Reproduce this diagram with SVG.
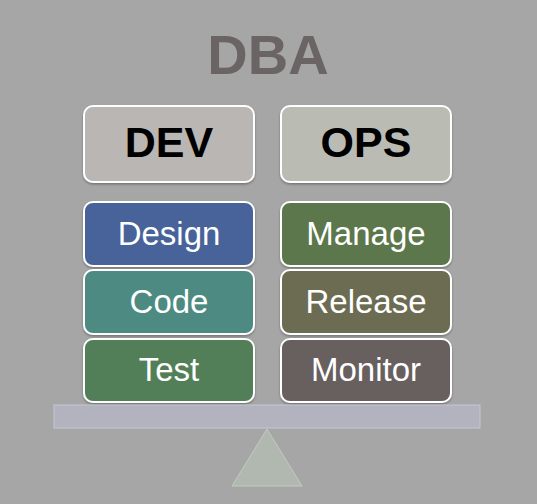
<svg xmlns="http://www.w3.org/2000/svg" width="537" height="504" viewBox="0 0 537 504">
<defs>
<style>
.box{stroke:#ffffff;stroke-width:2}
.hd{font-family:"Liberation Sans",Arial,sans-serif;font-weight:bold;font-size:43px;fill:#000;text-anchor:middle}
.lb{font-family:"Liberation Sans",Arial,sans-serif;font-size:33px;fill:#ffffff;text-anchor:middle}
</style>
<filter id="sh" x="-10%" y="-10%" width="120%" height="130%">
<feDropShadow dx="0" dy="1.5" stdDeviation="1.2" flood-color="#000" flood-opacity="0.3"/>
</filter>
</defs>
<rect width="537" height="504" fill="#a6a6a6"/>
<g id="title"><text x="268" y="74" font-family="'Liberation Sans',Arial,sans-serif" font-weight="bold" font-size="56" fill="#6a6564" text-anchor="middle">DBA</text></g>
<g id="dev"><rect class="box" x="84" y="106" width="170" height="76" rx="9" fill="#bab6b4" filter="url(#sh)"/><text class="hd" x="169" y="157">DEV</text></g>
<g id="ops"><rect class="box" x="281" y="106" width="170" height="76" rx="9" fill="#babcb4" filter="url(#sh)"/><text class="hd" x="366" y="157">OPS</text></g>
<g id="design"><rect class="box" x="84" y="202" width="170" height="64" rx="9" fill="#47649a" filter="url(#sh)"/><text class="lb" x="169" y="245">Design</text></g>
<g id="code"><rect class="box" x="84" y="270" width="170" height="64" rx="9" fill="#4e8b82" filter="url(#sh)"/><text class="lb" x="169" y="313">Code</text></g>
<g id="test"><rect class="box" x="84" y="339" width="170" height="63" rx="9" fill="#527f58" filter="url(#sh)"/><text class="lb" x="169" y="381">Test</text></g>
<g id="manage"><rect class="box" x="281" y="202" width="170" height="64" rx="9" fill="#5c774c" filter="url(#sh)"/><text class="lb" x="366" y="245">Manage</text></g>
<g id="release"><rect class="box" x="281" y="270" width="170" height="64" rx="9" fill="#6c6c52" filter="url(#sh)"/><text class="lb" x="366" y="313">Release</text></g>
<g id="monitor"><rect class="box" x="281" y="339" width="170" height="63" rx="9" fill="#685f5e" filter="url(#sh)"/><text class="lb" x="366" y="381">Monitor</text></g>
<g id="beam"><rect x="54" y="405" width="426" height="23" fill="#b3b3bf" stroke="#c6c6d4" stroke-width="1"/></g>
<g id="fulcrum"><polygon points="267,429 302,486 232,486" fill="#b0b8b0" stroke="#c4c9c4" stroke-width="1"/></g>
<g id="connectors"></g>
</svg>
